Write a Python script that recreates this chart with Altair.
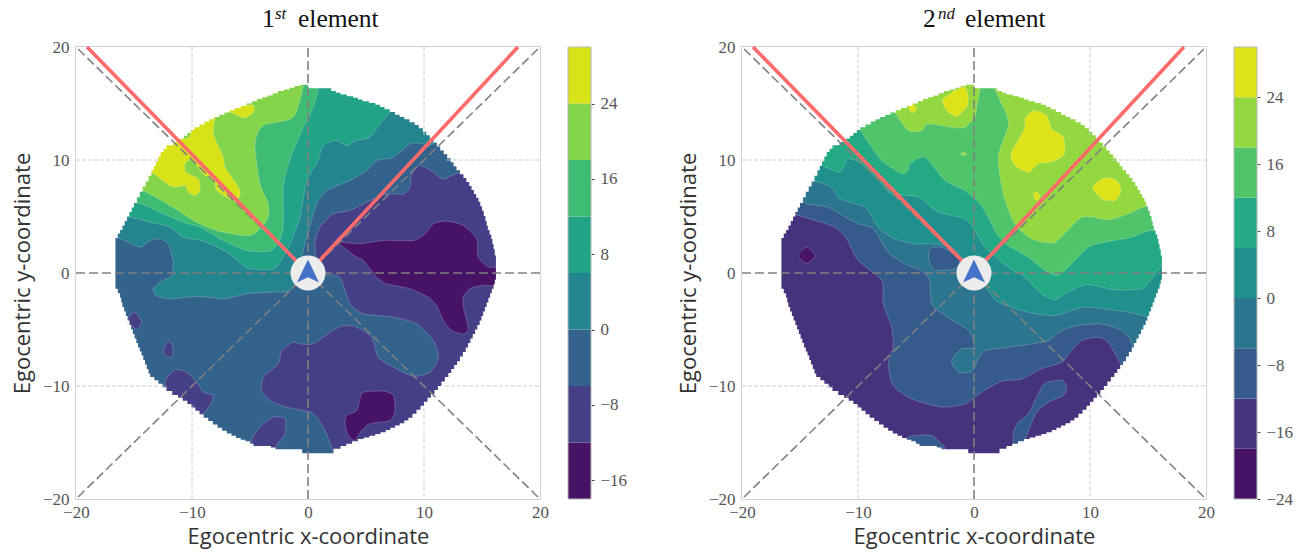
import altair as alt
import pandas as pd

# ---------- colour bands ----------
P1_LEVELS = [-18, -12, -6, 0, 6, 12, 18, 24, 30]
P1_COLORS = ["#471365", "#443f87", "#33628d", "#25858e", "#20a386", "#3fbc73", "#85d54a", "#d8e219"]
P1_TICKS = [-16, -8, 0, 8, 16, 24]
P2_LEVELS = [-24, -18, -12, -6, 0, 6, 12, 18, 24, 30]
P2_COLORS = ["#471365", "#45337e", "#355b8c", "#2b758e", "#20908d", "#23a983", "#4fc46a", "#93d741", "#dde318"]
P2_TICKS = [-24, -16, -8, 0, 8, 16, 24]
AXIS_TICKS = [-20, -10, 0, 10, 20]
RED_ENDS = [(-19.05, 20), (18.1, 20)]
DIAGONALS = [(-20, 20), (20, 20), (20, -20), (-20, -20)]
GRID_SEGMENTS = [(-10, 20, -10, 12.9), (-10, -11.7, -10, -20), (10, 20, 10, 12.0), (10, -12.0, 10, -20),
                 (-20, 10, -12.9, 10), (11.95, 10, 20, 10), (-20, -10, -12.2, -10), (11.8, -10, 20, -10)]
ARROW = [(0, 1.2), (-0.95, -0.84), (0, -0.37), (0.95, -0.84)]

# silhouette of the sampled region, clockwise from the left
DISC = [(-16.6, 0), (-16.6, 3.1), (-16.4, 3.5), (-16.2, 3.8), (-16, 4.2), (-15.8, 4.6), (-15.6, 5), (-15.4, 5.4), (-15.2, 5.8),
        (-15, 6.2), (-14.75, 6.7), (-14.5, 7.2), (-14.25, 7.65), (-14, 8.1), (-13.75, 8.6), (-13.5, 9.1), (-13.3, 9.5), (-13.1, 9.9),
        (-12.9, 10.3), (-12.7, 10.7), (-12.45, 11), (-12.2, 11.3), (-11.6, 11.6), (-11, 11.9), (-10.7, 12.15), (-10.4, 12.4),
        (-10.1, 12.65), (-9.8, 12.9), (-9.35, 13.15), (-8.9, 13.4), (-8.5, 13.6), (-8.1, 13.8), (-7.65, 14), (-7.2, 14.2),
        (-6.75, 14.4), (-6.3, 14.6), (-5.8, 14.8), (-5.3, 15), (-4.85, 15.2), (-4.4, 15.4), (-3.95, 15.55), (-3.5, 15.7),
        (-3.05, 15.9), (-2.6, 16.1), (-2.1, 16.25), (-1.6, 16.4), (-1.15, 16.55), (-0.7, 16.65), (0, 16.35), (2, 16.1), (2.4, 15.95),
        (2.8, 15.8), (3.35, 15.65), (3.9, 15.5), (4.3, 15.35), (4.7, 15.2), (5.25, 15.05), (5.8, 14.9), (6.2, 14.7), (6.6, 14.5),
        (7.05, 14.25), (7.5, 14), (7.9, 13.8), (8.3, 13.6), (8.75, 13.35), (9.2, 13.1), (9.55, 12.8), (9.9, 12.5), (10.2, 12.2),
        (10.5, 11.9), (10.8, 11.55), (11.1, 11.2), (11.4, 10.85), (11.7, 10.5), (12, 10.15), (12.3, 9.8), (12.55, 9.45), (12.8, 9.1),
        (13.1, 8.75), (13.4, 8.4), (13.65, 8.05), (13.9, 7.7), (14.1, 7.35), (14.3, 7), (14.5, 6.65), (14.7, 6.3), (14.85, 5.9),
        (15, 5.5), (15.15, 5.05), (15.3, 4.6), (15.4, 4.2), (15.5, 3.8), (15.65, 3.4), (15.8, 3), (15.9, 2.55), (16, 2.1),
        (16.1, 1.55), (16.2, 1), (16.2, -0.6), (16.1, -1), (16, -1.4), (15.85, -1.8), (15.7, -2.2), (15.55, -2.6), (15.4, -3),
        (15.25, -3.4), (15.1, -3.8), (14.95, -4.2), (14.8, -4.6), (14.6, -5), (14.4, -5.4), (14.2, -5.8), (14, -6.2), (13.8, -6.6),
        (13.6, -7), (13.35, -7.4), (13.1, -7.8), (12.85, -8.15), (12.6, -8.5), (12.35, -8.85), (12.1, -9.2), (11.8, -9.6), (11.5, -10),
        (11.2, -10.35), (10.9, -10.7), (10.6, -11.05), (10.3, -11.4), (10, -11.75), (9.7, -12.1), (9.35, -12.45), (9, -12.8),
        (8.65, -13.05), (8.3, -13.3), (7.9, -13.5), (7.5, -13.7), (7.1, -13.9), (6.7, -14.1), (6.25, -14.25), (5.8, -14.4),
        (5.3, -14.55), (4.8, -14.7), (4.3, -14.9), (3.8, -15.1), (3.3, -15.3), (2.8, -15.55), (2.2, -15.95), (-0.5, -15.95),
        (-0.5, -15.6), (-2.4, -15.6), (-2.8, -15.45), (-3.2, -15.3), (-4.4, -15.3), (-4.7, -15.1), (-5, -14.9), (-5.4, -14.75),
        (-5.8, -14.6), (-6.2, -14.4), (-6.6, -14.2), (-7, -13.95), (-7.4, -13.7), (-7.8, -13.4), (-8.2, -13.1), (-8.6, -12.8),
        (-9, -12.5), (-9.35, -12.2), (-9.7, -11.9), (-10.05, -11.6), (-10.4, -11.3), (-10.8, -11.05), (-11.2, -10.8), (-11.7, -10.45),
        (-12.2, -10.1), (-12.55, -9.8), (-12.9, -9.5), (-13.25, -9.2), (-13.6, -8.9), (-13.75, -8.5), (-13.9, -8.1), (-14.05, -7.7),
        (-14.2, -7.3), (-14.35, -6.95), (-14.5, -6.6), (-14.65, -6.2), (-14.8, -5.8), (-14.95, -5.4), (-15.1, -5), (-15.25, -4.6),
        (-15.4, -4.2), (-15.55, -3.8), (-15.7, -3.4), (-15.85, -3), (-16, -2.6), (-16.1, -2.2), (-16.2, -1.8), (-16.4, -1.4),
        (-16.6, -1), (-16.6, 0)]
FRAME = [(-20, 0), (-20, -20), (20, -20), (20, 20), (-20, 20), (-20, 0)]

# ---------- contour regions, painted in order: (band index, outline) ----------
PANEL1 = [
    (2, [(-19, -19), (0, -19), (19, -19), (19, 0), (19, 19), (0, 19), (-19, 19), (-19, 0)]),
    (1, [(13.39, 8.92), (11.67, 8.33), (10.8, 8.92), (9.65, 9.51), (8.94, 8.78), (8.79, 7.6), (8.22, 7), (6.78, 7),
         (5.34, 6.4), (3.62, 5.53), (2.18, 5.24), (1.03, 4.06), (0.6, 2.58), (0.75, 1.4), (1.47, -0.07), (2.76, -0.37),
         (3.62, -2.73), (4.77, -3.61), (7.36, -3.91), (9.37, -4.5), (10.8, -5.97), (11.24, -7.45), (10.52, -8.78),
         (9.08, -9.13), (7.36, -8.33), (6.06, -7.45), (5.49, -5.68), (4.2, -4.79), (3.05, -4.65), (1.9, -5.24),
         (0.46, -6.27), (-0.69, -6.27), (-1.27, -6.12), (-2.27, -6.86), (-2.56, -8.04), (-3.85, -9.22), (-4, -10.4),
         (-3.28, -11.28), (-1.84, -11.87), (0.17, -12.3), (0.75, -12.76), (1.47, -13.94), (2.18, -15.9), (2.3, -17.5),
         (14, -17.5), (19, -5), (19, 9)]),
    (0, [(2.6, 2.73), (4.48, 2.58), (6.49, 2.88), (9.08, 2.88), (10.09, 3.47), (10.8, 4.35), (11.95, 4.59), (13.39, 4.2),
         (14.54, 3.02), (14.68, 1.4), (15.69, 0.5), (18, 0.5), (18, -1.2), (15.1, -1.1), (13.96, -1.4), (13.39, -2.14),
         (13.39, -3), (13.82, -4.94), (13.39, -5.4), (12.38, -5.09), (11.67, -4.2), (11.09, -2.88), (10.37, -2.14),
         (8.79, -1.4), (6.78, -0.96), (5.92, -0.37), (4.77, 1.1), (4.2, 1.4), (3.05, 2.3)]),
    (0, [(4.77, -10.55), (6.49, -10.46), (7.36, -10.84), (7.5, -12.17), (7.07, -13.05), (5.34, -13.35), (4.63, -13.94),
         (4.05, -14.82), (3.48, -14.38), (3.19, -13.35), (3.33, -12.61), (4.2, -12.17), (4.48, -11.14)]),
    (1, [(-4.86, -14.8), (-4.14, -13.64), (-2.99, -12.76), (-1.98, -12.9), (-1.98, -14.23), (-2.7, -15.26), (-2.4, -16.5),
         (-4.5, -16.5)]),
    (1, [(-12.33, -9.66), (-11.47, -8.57), (-10.46, -8.78), (-9.6, -9.66), (-9.02, -10.55), (-8.16, -10.84), (-8.45, -11.73),
         (-9.02, -12.46), (-9.9, -13.5), (-11.9, -12)]),
    (1, [(-15.49, -3.91), (-14.91, -3.47), (-14.34, -4.35), (-14.77, -5), (-15.35, -4.5)]),
    (1, [(-12.04, -5.97), (-11.67, -6.56), (-11.67, -7.3), (-12.13, -7.45), (-12.47, -6.86)]),
    (3, [(-1.55, -1.55), (-3.28, -1.7), (-5.29, -1.84), (-7.16, -2.29), (-8.45, -2.14), (-10, -2.1), (-11.9, -2.29),
         (-13.05, -2), (-13.33, -1.4), (-12.76, -0.81), (-11.75, -0.22), (-11.61, 1.1), (-11.67, 1.25), (-12.04, 2.58),
         (-12.76, 3.02), (-13.62, 2.88), (-14.48, 2.29), (-15.49, 2.73), (-16.64, 3.17), (-18.5, 3.2), (-18.5, 12), (0, 19),
         (13, 14), (10.52, 11.28), (9.94, 11.43), (8.79, 11.43), (7.36, 10.25), (5.92, 9.96), (5.06, 9.07), (3.62, 8.19),
         (1.61, 7.3), (0.75, 6.12), (-0.11, 3.17), (-0.55, 1.4), (-0.6, 0)]),
    (4, [(8, 15.5), (7.07, 14.23), (6.21, 13.2), (5.34, 12.02), (4.2, 11.73), (3.33, 11.28), (2.47, 11.73), (1.32, 11.28),
         (0.75, 9.66), (-0.11, 8.19), (-0.69, 4.94), (-1.55, 2.58), (-2.7, 0.52), (-3.56, 0.31), (-5.29, 0.46), (-7, 1.84),
         (-9.02, 2.82), (-10.75, 3.17), (-11.9, 4.06), (-13.62, 4.5), (-15.78, 5), (-18.5, 5), (-17, 14), (0, 19)]),
    (5, [(1, 18), (0.89, 16.3), (0.46, 14.68), (-0.4, 12.9), (-1.27, 10.84), (-1.84, 9.07), (-2.13, 7.6), (-2.18, 3.76),
         (-3.13, 1.99), (-5.29, 1.99), (-7.59, 3.02), (-9.31, 4.06), (-10.75, 4.5), (-12.76, 5.38), (-14.91, 6.27),
         (-18, 6.3), (-17, 14), (-5, 19)]),
    (6, [(-0.3, 18), (-0.4, 16.59), (-1.27, 13.79), (-3.85, 13.05), (-4.57, 11.43), (-4.14, 7.89), (-3.42, 6.12), (-3.56, 4.65),
         (-5, 3.32), (-7.87, 3.76), (-9.89, 4.65), (-11.9, 5.97), (-14.48, 7.36), (-17, 7.4), (-15, 14), (-5, 18)]),
    (7, [(-8.8, 14.4), (-8.02, 13.94), (-8.16, 12.32), (-7.3, 10.25), (-7.16, 9.37), (-6, 7.6), (-5.86, 6.86), (-6.44, 6.42),
         (-7.87, 7.3), (-8.08, 8.19), (-9.02, 8.78), (-10.03, 10), (-10.6, 9.66), (-10.52, 8.92), (-9.45, 8.33), (-9.31, 7.3),
         (-9.74, 6.86), (-10.32, 7.15), (-10.6, 7.74), (-11.75, 7.65), (-13.48, 8.92), (-15, 9.5), (-13.5, 12), (-11.4, 11.9),
         (-10.32, 11.96), (-9.89, 12.85)]),
    (7, [(-6.87, 14.38), (-5.58, 14.82), (-4.71, 14.82), (-4.71, 14.23), (-5.43, 13.73), (-6.3, 14.08)]),
]

PANEL2 = [
    (1, [(-19, -19), (0, -19), (19, -19), (19, 0), (19, 19), (0, 19), (-19, 19), (-19, 0)]),
    (0, [(-15.15, 1.55), (-14.43, 2.27), (-13.71, 1.55), (-14.43, 0.83)]),
    (2, [(-17, 5.8), (-15.58, 5.24), (-13.71, 4.65), (-11.99, 4.06), (-10.98, 3.02), (-9.98, 1.11), (-7.96, -0.66),
         (-7.82, -2.73), (-7.1, -4.79), (-6.96, -6.56), (-7.39, -8.04), (-6.96, -9.96), (-5.38, -11.14), (-2.79, -11.87),
         (-0.78, -11.58), (0.66, -10.55), (2.38, -9.57), (4.11, -9.37), (5.83, -8.48), (7.56, -7.89), (8.42, -6.86),
         (9.28, -5.97), (10.72, -5.68), (11.58, -6.12), (12.16, -7.15), (12.87, -8.33), (14.5, -9.5), (19, -5), (19, 19), (-19, 19),
         (-19, 6.5)]),
    (2, [(6.12, -9.75), (7.56, -9.5), (7.99, -10.1), (7.7, -10.84), (6.41, -11.43), (5.4, -12.32), (4.83, -13.64), (4.25, -15.27),
         (4.3, -16.3), (3.5, -16.3), (3.39, -14.23), (3.82, -13.2), (4.68, -12.46), (5.4, -11)]),
    (2, [(-5.81, -14.68), (-5.09, -14.38), (-3.66, -14.38), (-2.79, -15.12), (-2.5, -15.56), (-3, -17), (-5.5, -16)]),
    (3, [(-16, 7.1), (-14.86, 6.71), (-14.43, 6.12), (-12.56, 5.82), (-10.84, 4.79), (-9.98, 4.35), (-8.68, 3.91), (-7.39, 1.84),
         (-5.95, 0.81), (-4.52, 0.22), (-3.8, -0.66), (-3.65, -2.73), (-2.5, -3.76), (-0.64, -4.94), (-0.2, -5.53), (0, -6.62),
         (-1.07, -6.71), (-1.93, -7.74), (-1.36, -8.78), (-0.2, -8.69), (0.37, -7.6), (0.95, -6.86), (2.67, -6.62), (4.97, -6.27),
         (6.41, -5.97), (7.56, -5.09), (9, -4.65), (11, -4.5), (12.73, -5.09), (13.45, -5.83), (13.88, -6.71), (16, -7.5), (19, -5),
         (19, 19), (-19, 19), (-19, 8)]),
    (2, [(-3.8, 2.14), (-2.79, 2.28), (-1.21, 1.4), (-1.64, 0.37), (-3.37, 0.28), (-3.88, 1.11)]),
    (4, [(-16, 8.3), (-13.94, 8.19), (-12.27, 7.6), (-11.56, 6.56), (-9.4, 5.83), (-8.54, 4.5), (-7.96, 3.76), (-6.82, 3.02),
         (-5.09, 2.58), (-3.94, 2.58), (-1.93, 2.28), (0, 0), (1.24, -1.55), (2.1, -2.58), (4.68, -3.47), (6.98, -3.76), (9.57, -3.02),
         (13.3, -3.47), (15.03, -3.91), (17, -4.5), (19, -4), (19, 19), (-19, 19), (-18, 9)]),
    (5, [(-15, 9.7), (-13.14, 9.51), (-11.56, 8.92), (-10.84, 10.1), (-9.69, 9.66), (-7.96, 7.89), (-7.1, 7.01), (-4.8, 6.71),
         (-3.08, 5.4), (-0.78, 4.79), (0.09, 3.76), (0.95, 2.29), (2.96, 0.52), (4.4, -0.37), (5.83, -1.84), (6.98, -2.37),
         (7.84, -1.84), (9.71, -1.02), (12.15, -1.49), (14.45, -1.4), (15.3, -0.52), (16.18, 0.52), (18, 0.5), (19, 10), (19, 19),
         (-19, 19), (-18, 10)]),
    (6, [(-10.3, 13.6), (-9.98, 12.9), (-8.83, 11.14), (-7.96, 9.96), (-6.24, 8.78), (-5.67, 9.07), (-5.52, 9.66), (-4.23, 10.25),
         (-2.5, 8.19), (-0.78, 7.3), (0.52, 6.12), (1.38, 4.65), (1.95, 3.47), (2.96, 2.43), (4.68, 1.4), (6.12, 0.22), (7.13, -0.2),
         (7.84, 0.22), (9.86, 2.29), (11.29, 2.73), (13.59, 3.17), (15.17, 3.76), (18, 3.8), (19, 10), (19, 19), (0, 19), (-12, 16)]),
    (7, [(1.7, 18), (1.81, 16.3), (2.67, 14.38), (2.96, 13.05), (2.1, 10.25), (2.53, 7), (3.53, 4.35), (4.97, 3.02), (6.98, 2.73),
         (9.28, 4.94), (11.58, 4.71), (13.3, 5.24), (14.88, 5.92), (18, 6.5), (19, 15), (10, 19)]),
    (7, [(-8, 15.5), (-6.96, 14.38), (-5.67, 12.61), (-4.52, 12.61), (-3.94, 13.2), (-1.93, 12.9), (-0.78, 12.9), (0.09, 13.79),
         (0.23, 14.68), (0.52, 16.3), (0.5, 18), (-7, 18)]),
    (7, [(-1.1, 10.66), (-0.7, 10.6), (-0.7, 10.4), (-1.1, 10.45)]),
    (8, [(-2.65, 15.41), (-1.64, 16.15), (-0.78, 16.45), (-0.49, 15.56), (-0.64, 14.68), (-1.5, 13.85), (-2.36, 14.38), (-2.7, 15.12)]),
    (8, [(-5.67, 14.68), (-5.24, 14.91), (-4.95, 14.53), (-5.32, 14.15)]),
    (8, [(4.4, 13.64), (5.12, 14.38), (6.26, 13.94), (6.7, 12.76), (7.7, 12.02), (7.79, 10.54), (6.84, 9.9), (5.55, 9.66), (4.68, 8.92),
         (3.53, 9.51), (3.19, 10.55), (3.97, 12.02), (4.4, 12.9)]),
    (8, [(10.23, 7.6), (11.29, 8.42), (12.3, 8.19), (12.67, 7.3), (12.16, 6.4), (11, 6.56)]),
    (8, [(5.11, 7), (5.4, 7.2), (5.69, 6.8), (5.4, 6.36)]),
]

XSCALE = alt.Scale(domain=[-20, 20], nice=False, zero=False)
YSCALE = alt.Scale(domain=[-20, 20], nice=False, zero=False)
SERIF = "Liberation Serif"
SANS = "Open Sans"
LABEL = "#555555"
XAXIS = alt.Axis(values=AXIS_TICKS, grid=False, ticks=False, domain=False, labelFont=SERIF, labelFontSize=17, labelColor=LABEL,
                 labelPadding=5, title="Egocentric x-coordinate", titleFont=SANS, titleFontSize=22, titleFontWeight="normal",
                 titleColor="#333333", titlePadding=6, format="d", labelFlush=False)
YAXIS = alt.Axis(values=AXIS_TICKS, grid=False, ticks=False, domain=False, labelFont=SERIF, labelFontSize=17, labelColor=LABEL,
                 labelPadding=7, title="Egocentric y-coordinate", titleFont=SANS, titleFontSize=22, titleFontWeight="normal",
                 titleColor="#333333", titlePadding=8, format="d", labelFlush=False)


def X(f):
    return alt.X(f, type="quantitative", scale=XSCALE, axis=XAXIS)


def Y(f):
    return alt.Y(f, type="quantitative", scale=YSCALE, axis=YAXIS)


def rows_of(polys):
    rows = []
    for pid, (band, pts) in enumerate(polys):
        for i, (x, y) in enumerate(pts):
            rows.append({"poly": pid, "band": band, "i": i, "x": x, "y": y})
    return pd.DataFrame(rows)


def rule_layer(rows, color, width, dash=None):
    kw = {"strokeDash": dash} if dash else {}
    return alt.Chart(pd.DataFrame(rows, columns=["x0", "y0", "x1", "y1"])).mark_rule(
        color=color, strokeWidth=width, **kw).encode(x=X("x0"), y=Y("y0"), x2="x1", y2="y1")


def panel(polys, colors, levels, ticks, first, sup, word, xs):
    n = len(colors)
    regions = alt.Chart(rows_of(polys)).mark_line(
        interpolate="cardinal-closed", tension=0.3, stroke="#ffffff", strokeOpacity=0.3, strokeWidth=0.7, clip=True
    ).encode(
        x=X("x"), y=Y("y"), detail="poly:N", order="i:Q",
        fill=alt.Fill("band:O", scale=alt.Scale(domain=list(range(n)), range=colors), legend=None),
    )
    mask_pts = FRAME + DISC
    mask = alt.Chart(pd.DataFrame({"x": [p[0] for p in mask_pts], "y": [p[1] for p in mask_pts], "i": list(range(len(mask_pts)))})).mark_line(
        interpolate="step-after", fill="white", strokeWidth=0
    ).encode(x=X("x"), y=Y("y"), order="i:Q")
    grid = rule_layer(GRID_SEGMENTS, "#cccccc", 1, [4, 2])
    dashed = rule_layer([(0, -20, 0, 20), (-20, 0, 20, 0)] + [(0, 0, a, b) for a, b in DIAGONALS], "#808080", 1.6, [9, 4])
    red = rule_layer([(0, 0, a, b) for a, b in RED_ENDS], "#ff6b6b", 3.6)
    circle = alt.Chart(pd.DataFrame({"x": [0], "y": [0]})).mark_circle(size=1225, color="#ececec", opacity=1).encode(x=X("x"), y=Y("y"))
    arrow = alt.Chart(pd.DataFrame({"x": [p[0] for p in ARROW], "y": [p[1] for p in ARROW], "i": [0, 1, 2, 3]})).mark_line(
        interpolate="linear-closed", fill="#4472c8", strokeWidth=0
    ).encode(x=X("x"), y=Y("y"), order="i:Q")
    t1 = alt.Chart(pd.DataFrame({"t": [first]})).mark_text(font=SERIF, fontSize=25.5, align="left", baseline="alphabetic", color="#111111").encode(
        text="t:N", x=alt.value(xs[0]), y=alt.value(-20.5))
    t2 = alt.Chart(pd.DataFrame({"t": [sup]})).mark_text(font=SERIF, fontSize=17, fontStyle="italic", align="left", baseline="alphabetic", color="#111111").encode(
        text="t:N", x=alt.value(xs[1]), y=alt.value(-28))
    t3 = alt.Chart(pd.DataFrame({"t": [word]})).mark_text(font=SERIF, fontSize=25.5, align="left", baseline="alphabetic", color="#111111").encode(
        text="t:N", x=alt.value(xs[2]), y=alt.value(-20.5))
    main = alt.layer(regions, mask, grid, dashed, red, circle, arrow, t1, t2, t3)

    cb_scale = alt.Scale(domain=[levels[0], levels[-1]], nice=False, zero=False)
    cb_axis = alt.Axis(orient="right", offset=51, values=ticks, grid=False, domain=False, ticks=True, tickSize=3, tickColor="#444444",
                       labelFont=SERIF, labelFontSize=17, labelColor=LABEL, labelPadding=6, title=None, format="d", labelFlush=False)
    cb_df = pd.DataFrame({"lo": levels[:-1], "hi": levels[1:], "band": list(range(n))})
    bar = alt.Chart(cb_df).mark_rect().encode(
        y=alt.Y("lo:Q", scale=cb_scale, axis=cb_axis), y2="hi:Q",
        x=alt.value(492), x2=alt.value(515),
        color=alt.Color("band:O", scale=alt.Scale(domain=list(range(n)), range=colors), legend=None),
    )
    frame = alt.Chart(pd.DataFrame({"lo": [levels[0]], "hi": [levels[-1]]})).mark_rect(fillOpacity=0, stroke="#b8b8b8", strokeWidth=1).encode(
        y=alt.Y("lo:Q", scale=cb_scale, axis=cb_axis), y2="hi:Q", x=alt.value(492), x2=alt.value(515))
    bars = alt.layer(bar, frame)
    return alt.layer(main, bars).resolve_scale(y="independent", color="independent", fill="independent").properties(width=464, height=452)


left = panel(PANEL1, P1_COLORS, P1_LEVELS, P1_TICKS, "1", "st", "element", (186, 199, 222))
right = panel(PANEL2, P2_COLORS, P2_LEVELS, P2_TICKS, "2", "nd", "element", (181, 196, 223))

chart = alt.hconcat(left, right, spacing=202, bounds="flush").configure_view(stroke="#c4c4c4", strokeWidth=1.5).properties(
    padding={"left": 2, "top": -4, "right": 2, "bottom": 2})
chart.save("out.html", embed_options={"renderer": "svg", "actions": False})
